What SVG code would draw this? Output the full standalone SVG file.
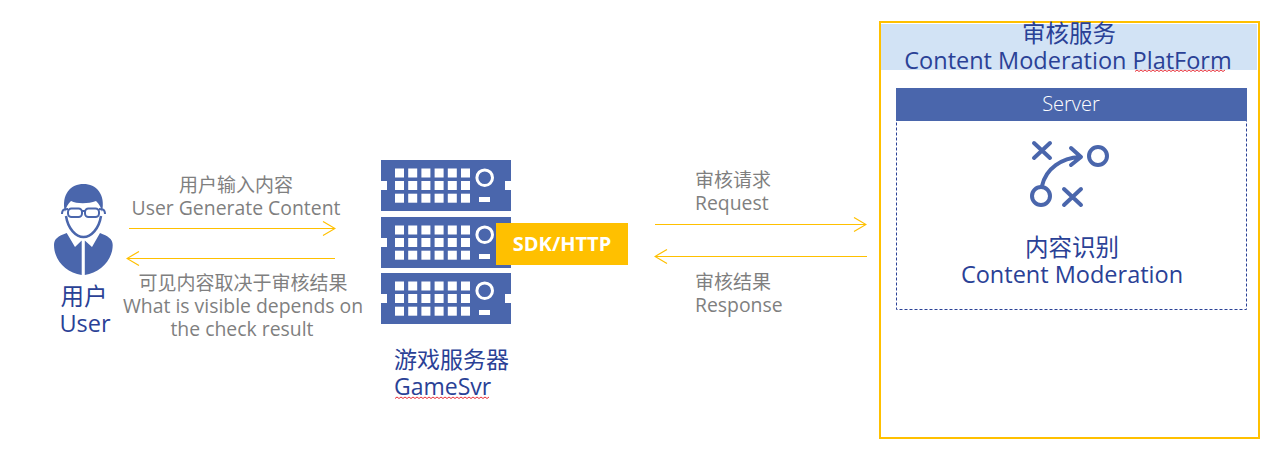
<svg xmlns="http://www.w3.org/2000/svg" width="1285" height="457" viewBox="0 0 1285 457">
<style>
text{font-family:"Open Sans","Noto Sans CJK SC",sans-serif}
.g{font-size:19.400px;fill:#7f7f7f;text-anchor:middle}
.gl{font-size:19.400px;fill:#7f7f7f}
.gz{font-size:19px;fill:#7f7f7f;text-anchor:middle}
.gzl{font-size:19px;fill:#7f7f7f}
.b{font-size:23.500px;fill:#2a4196;text-anchor:middle}
.bl{font-size:23px;fill:#2a4196}
.c{fill:none;stroke:#FFC000;stroke-width:1.2}
.w{fill:none;stroke:#e8303a;stroke-width:1}
.ic{fill:none;stroke:#4A66AC;stroke-width:4;stroke-linecap:round;stroke-linejoin:round}
</style>
<defs>
<marker id="ah" viewBox="0 0 14 16" refX="13" refY="8" markerWidth="14" markerHeight="16" markerUnits="userSpaceOnUse" orient="auto-start-reverse"><path d="M1 1L13 8L1 15" fill="none" stroke="#FFC000" stroke-width="1.2"/></marker>
<g id="rack">
<path d="M0 0H130V21H124V30H130V51H0V30H6V21H0Z" fill="#4A66AC"/>
<g fill="#fff">
<rect x="14" y="8.500" width="9" height="9"/><rect x="27.200" y="8.500" width="9" height="9"/><rect x="40.400" y="8.500" width="9" height="9"/><rect x="53.600" y="8.500" width="9" height="9"/><rect x="66.800" y="8.500" width="9" height="9"/><rect x="80" y="8.500" width="9" height="9"/>
<rect x="14" y="21" width="9" height="9"/><rect x="27.200" y="21" width="9" height="9"/><rect x="40.400" y="21" width="9" height="9"/><rect x="53.600" y="21" width="9" height="9"/><rect x="66.800" y="21" width="9" height="9"/><rect x="80" y="21" width="9" height="9"/>
<rect x="14" y="33.700" width="9" height="9"/><rect x="27.200" y="33.700" width="9" height="9"/><rect x="40.400" y="33.700" width="9" height="9"/><rect x="53.600" y="33.700" width="9" height="9"/><rect x="66.800" y="33.700" width="9" height="9"/><rect x="80" y="33.700" width="9" height="9"/>
<rect x="98" y="37" width="11" height="5"/>
</g>
<circle cx="103.700" cy="17.700" r="7.800" fill="none" stroke="#fff" stroke-width="3"/>
</g>
</defs>
<rect width="1285" height="457" fill="#fff"/>
<g id="connectors">
<path class="c" d="M129 228.500H335" marker-end="url(#ah)"/>
<path class="c" d="M335 258.500H127" marker-end="url(#ah)"/>
<path class="c" d="M655 224.500H866" marker-end="url(#ah)"/>
<path class="c" d="M867 256.500H655" marker-end="url(#ah)"/>
</g>
<g id="user">
<path d="M66.700 233L75 247L81.700 240.500V275C66 273 54 260 54 245C54 239 58 236 66.700 233Z" fill="#4A66AC"/>
<path d="M100 233L92 247L84.800 240.500V275C100 273 112.700 260 112.700 245C112.700 239 108 236 100 233Z" fill="#4A66AC"/>
<path d="M65 212C61 194 71 184 83.500 184C96 184 106 194 102 212C101 207 99 204 96 201C88 204 77 204 71 201C68 204 66 207 65 212Z" fill="#4A66AC"/>
<path d="M66 216C68 229 76 237 83.500 237C91 237 99 229 101 216" fill="none" stroke="#4A66AC" stroke-width="2.500"/>
<path d="M62 214C62 209 65 209 68 209M99 209C102 209 105 209 105 214M82 211H85" fill="none" stroke="#4A66AC" stroke-width="2"/>
<rect x="68" y="208.500" width="14" height="8.500" rx="3.500" fill="#fff" stroke="#4A66AC" stroke-width="2"/>
<rect x="85" y="208.500" width="14" height="8.500" rx="3.500" fill="#fff" stroke="#4A66AC" stroke-width="2"/>
<text x="84" y="305" class="b">用户</text>
<text x="85" y="332" class="b">User</text>
</g>
<g id="label-ugc">
<text x="236" y="192" class="gz">用户输入内容</text>
<text x="236" y="215" class="g">User Generate Content</text>
</g>
<g id="label-visible">
<text x="243" y="290" class="gz">可见内容取决于审核结果</text>
<text x="243" y="313" class="g">What is visible depends on</text>
<text x="242" y="336" class="g">the check result</text>
</g>
<g id="gamesvr">
<use href="#rack" x="381" y="160"/>
<use href="#rack" x="381" y="217"/>
<use href="#rack" x="381" y="273"/>
<text x="394" y="368" class="bl">游戏服务器</text>
<text x="394" y="395" class="bl">GameSvr</text>
<path class="w" d="M395 398.500l2 -1.500 2 1.500 2 -1.500 2 1.500 2 -1.500 2 1.500 2 -1.500 2 1.500 2 -1.500 2 1.500 2 -1.500 2 1.500 2 -1.500 2 1.500 2 -1.500 2 1.500 2 -1.500 2 1.500 2 -1.500 2 1.500 2 -1.500 2 1.500 2 -1.500 2 1.500 2 -1.500 2 1.500 2 -1.500 2 1.500 2 -1.500 2 1.500 2 -1.500 2 1.500 2 -1.500 2 1.500 2 -1.500 2 1.500 2 -1.500 2 1.500 2 -1.500 2 1.500 2 -1.500 2 1.500 2 -1.500 2 1.500 2 -1.500 2 1.500 2 -1.500"/>
</g>
<g id="sdk">
<rect x="496" y="223" width="132" height="42" fill="#FFC000"/>
<text x="562" y="251" font-size="20" font-weight="700" fill="#fff" text-anchor="middle">SDK/HTTP</text>
</g>
<g id="label-request">
<text x="695" y="187" class="gzl">审核请求</text>
<text x="695" y="210" class="gl">Request</text>
</g>
<g id="label-response">
<text x="695" y="289" class="gzl">审核结果</text>
<text x="695" y="312" class="gl">Response</text>
</g>
<g id="platform">
<rect x="881" y="24" width="376" height="46" fill="#D2E3F5"/>
<rect x="880" y="22" width="379" height="416" fill="none" stroke="#FFC000" stroke-width="2"/>
<text x="1069" y="42" class="b">审核服务</text>
<text x="1068" y="69" class="b">Content Moderation PlatForm</text>
<path class="w" d="M1135 71.500l2 -1.500 2 1.500 2 -1.500 2 1.500 2 -1.500 2 1.500 2 -1.500 2 1.500 2 -1.500 2 1.500 2 -1.500 2 1.500 2 -1.500 2 1.500 2 -1.500 2 1.500 2 -1.500 2 1.500 2 -1.500 2 1.500 2 -1.500 2 1.500 2 -1.500 2 1.500 2 -1.500 2 1.500 2 -1.500 2 1.500 2 -1.500 2 1.500 2 -1.500 2 1.500 2 -1.500 2 1.500 2 -1.500 2 1.500 2 -1.500 2 1.500 2 -1.500 2 1.500 2 -1.500 2 1.500 2 -1.500 2 1.500 2 -1.500"/>
</g>
<g id="server">
<rect x="896.500" y="88.500" width="350" height="221" fill="none" stroke="#2a4196" stroke-width="1" stroke-dasharray="3 2"/>
<rect x="896" y="88" width="351" height="33" fill="#4A66AC"/>
<text x="1071" y="111" font-size="20" font-weight="300" fill="#fff" text-anchor="middle">Server</text>
</g>
<g id="moderation">
<path class="ic" d="M1034 143L1050 158M1050 143L1034 158M1064 189L1081 205M1081 189L1064 205"/>
<circle class="ic" cx="1098" cy="156" r="9"/>
<circle class="ic" cx="1041" cy="196" r="9"/>
<path class="ic" d="M1042 186C1046 168 1062 158 1080 157M1071 148L1081 157L1071 165"/>
<text x="1072" y="256" class="b">内容识别</text>
<text x="1072" y="283" class="b">Content Moderation</text>
</g>
</svg>
